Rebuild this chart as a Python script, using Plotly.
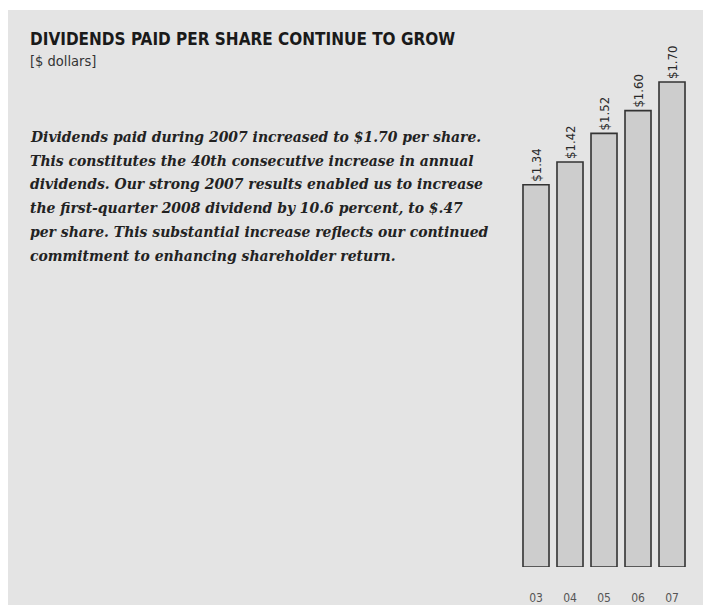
import plotly.graph_objects as go

years = ["03", "04", "05", "06", "07"]
dividends = [1.34, 1.42, 1.52, 1.60, 1.70]
value_labels = ["$1.34", "$1.42", "$1.52", "$1.60", "$1.70"]

title_text = "DIVIDENDS PAID PER SHARE CONTINUE TO GROW"
subtitle_text = "[$ dollars]"
paragraph_lines = [
    "Dividends paid during 2007 increased to $1.70 per share.",
    "This constitutes the 40th consecutive increase in annual",
    "dividends. Our strong 2007 results enabled us to increase",
    "the first-quarter 2008 dividend by 10.6 percent, to $.47",
    "per share. This substantial increase reflects our continued",
    "commitment to enhancing shareholder return.",
]

W, H = 703, 605
L, R, T, B = 519, 689, 25, 567
PW, PH = R - L, B - T

SANS = "DejaVu Sans Condensed"


def px(x):  # page pixel -> paper
    return (x - L) / PW


def py(y):
    return (B - y) / PH


fig = go.Figure()
fig.add_trace(go.Bar(
    x=years, y=dividends,
    marker=dict(color="#cdcdcd", line=dict(color="#333333", width=1.6)),
    text=value_labels, textposition="outside", textangle=-90, constraintext="none",
    textfont=dict(family=SANS, size=13, color="#2a2a2a"),
    cliponaxis=False, hoverinfo="skip",
))

annotations = [
    dict(text="<b>" + title_text + "</b>", x=px(28), y=py(38.5), xref="paper", yref="paper",
         xanchor="left", yanchor="middle", showarrow=False,
         font=dict(family=SANS, size=17, color="#1a1a1a")),
    dict(text=subtitle_text, x=px(28), y=py(61), xref="paper", yref="paper",
         xanchor="left", yanchor="middle", showarrow=False,
         font=dict(family=SANS, size=14.5, color="#333333")),
]
line_y = [136.5, 160.2, 183.9, 207.6, 231.3, 255]
for txt, yy in zip(paragraph_lines, line_y):
    annotations.append(dict(
        text="<b><i>" + txt + "</i></b>", x=px(28), y=py(yy), xref="paper", yref="paper",
        xanchor="left", yanchor="middle", showarrow=False,
        font=dict(family="DejaVu Serif Condensed", size=15.5, color="#222222")))

fig.update_layout(
    width=W, height=H,
    margin=dict(l=L, r=W - R, t=T, b=H - B, pad=0, autoexpand=False),
    paper_bgcolor="white", plot_bgcolor="rgba(0,0,0,0)",
    showlegend=False, bargap=0.235,
    annotations=annotations,
    shapes=[dict(type="rect", xref="paper", yref="paper", layer="below",
                 x0=px(8), x1=px(W + 10), y0=py(H + 10), y1=py(10),
                 fillcolor="#e4e4e4", line=dict(width=0))],
    xaxis=dict(showgrid=False, zeroline=False, showline=False, ticks="", automargin=False,
               tickfont=dict(family=SANS, size=12, color="#555555"),
               ticklabelstandoff=22),
    yaxis=dict(range=[0, 1.9], visible=False, showgrid=False, zeroline=False, automargin=False),
)

fig.write_html("out.html", config={"displayModeBar": False},
               post_script="document.body.style.margin='0';document.body.style.overflow='hidden';")
